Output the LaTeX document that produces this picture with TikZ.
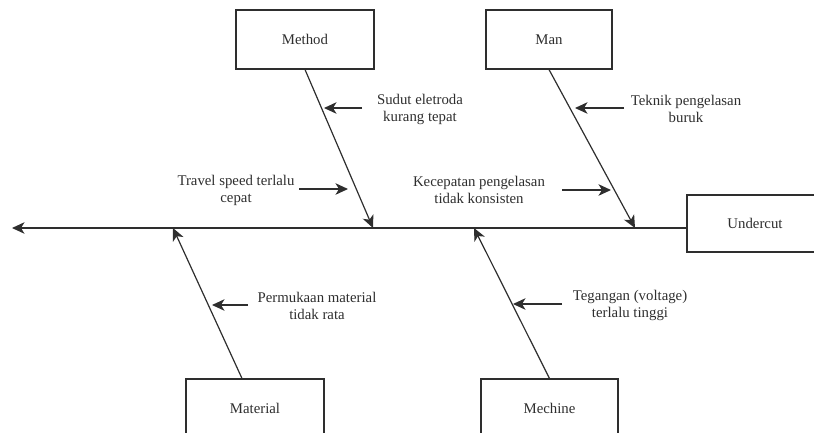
\documentclass[tikz,border=0pt]{standalone}
\usepackage{fontspec}
\setmainfont{Liberation Serif}
\usetikzlibrary{arrows.meta}
\definecolor{ink}{rgb}{0.18,0.18,0.18}
\tikzset{
  catbox/.style={draw=ink, line width=1.1pt, fill=white, rectangle, inner sep=0pt,
    minimum width=138pt, minimum height=59pt, text=ink,
    font=\fontsize{14.8}{17}\selectfont},
  causetext/.style={align=center, text=ink, inner sep=0pt,
    font=\fontsize{14.8}{17}\selectfont},
  bone/.style={draw=ink, line width=1.2pt, -{Stealth[length=12.5pt,width=11.5pt,inset=3.5pt]}},
  pointer/.style={draw=ink, line width=1.2pt, -{Stealth[length=12.5pt,width=11.5pt,inset=3.5pt]}}
}
\begin{document}
\begin{tikzpicture}[x=1pt,y=-1pt]
\useasboundingbox (0,0) rectangle (814,432);
\clip (0,0) rectangle (814,432);

% category boxes
\node[catbox] (method) at (305,39.5) {Method};
\node[catbox, minimum width=126pt] (man) at (549,39.5) {Man};
\node[catbox, minimum width=136pt, minimum height=57pt] (effect) at (755,223.5) {Undercut};
\node[catbox, minimum height=58pt] (material) at (255,408) {Material};
\node[catbox, minimum width=137pt, minimum height=58pt] (machine) at (549.5,408) {Mechine};

% points where the bones meet the spine
\coordinate (head) at (12,228);
\coordinate (jMethod) at (373,228);
\coordinate (jMan) at (635,228);
\coordinate (jMaterial) at (173,228);
\coordinate (jMachine) at (474,228);

% spine
\draw[bone] (effect.west |- head) -- (head);

% bones
\draw[bone] (method.south) -- (jMethod);
\draw[bone] (man.south) -- (jMan);
\draw[bone] ([xshift=-13pt]material.north) -- (jMaterial);
\draw[bone] (machine.north) -- (jMachine);

% causes
\node[causetext] (c1) at (420,109) {Sudut eletroda\\kurang tepat};
\node[causetext] (c2) at (236,190) {Travel speed terlalu\\cepat};
\node[causetext] (c3) at (479,190) {Kecepatan pengelasan\\tidak konsisten};
\node[causetext] (c4) at (686,109) {Teknik pengelasan\\buruk};
\node[causetext] (c5) at (317,305.5) {Permukaan material\\tidak rata};
\node[causetext] (c6) at (630,305.5) {Tegangan (voltage)\\terlalu tinggi};

% cause pointers
\coordinate (p1s) at (362,108); \coordinate (p1e) at (324,108);
\coordinate (p2s) at (299,189); \coordinate (p2e) at (348,189);
\coordinate (p3s) at (562,190); \coordinate (p3e) at (611,190);
\coordinate (p4s) at (624,108); \coordinate (p4e) at (575,108);
\coordinate (p5s) at (248,305); \coordinate (p5e) at (212,305);
\coordinate (p6s) at (562,304); \coordinate (p6e) at (513,304);
\draw[pointer] (p1s) -- (p1e);
\draw[pointer] (p2s) -- (p2e);
\draw[pointer] (p3s) -- (p3e);
\draw[pointer] (p4s) -- (p4e);
\draw[pointer] (p5s) -- (p5e);
\draw[pointer] (p6s) -- (p6e);
\end{tikzpicture}
\end{document}
